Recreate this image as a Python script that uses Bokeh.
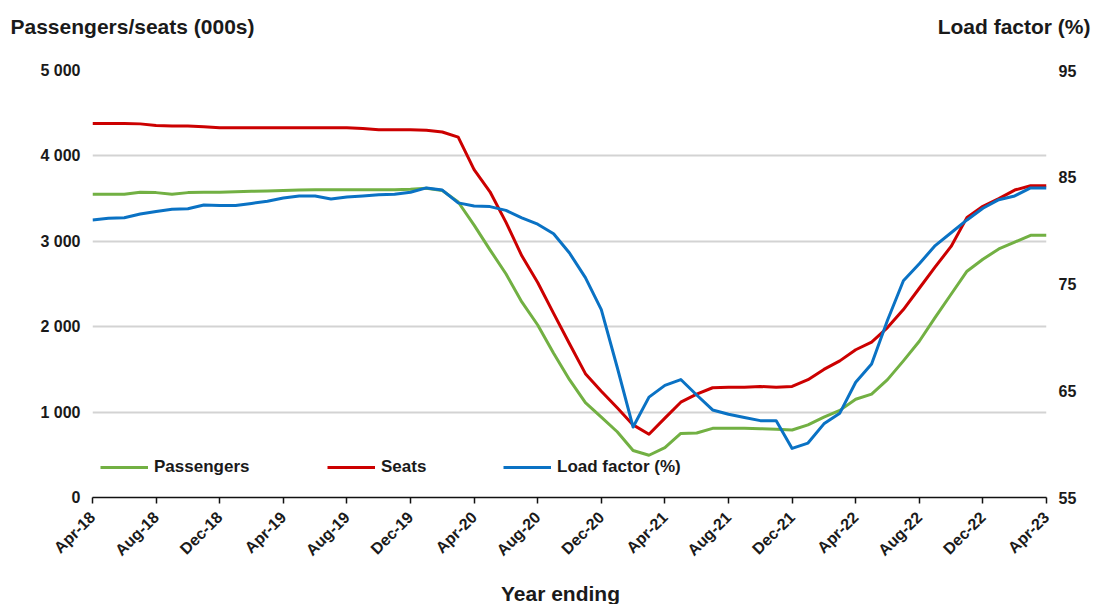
import math
from bokeh.plotting import figure
from bokeh.layouts import column
from bokeh.models import (Range1d, LinearAxis, FixedTicker, Legend, LegendItem, Label)
from bokeh.embed import file_html
from bokeh.resources import INLINE

# ---- data (monthly, year ending Apr-18 .. Apr-23) ----
month_index = list(range(61))
tick_months = [0, 4, 8, 12, 16, 20, 24, 28, 32, 36, 40, 44, 48, 52, 56, 60]
tick_labels = ["Apr-18", "Aug-18", "Dec-18", "Apr-19", "Aug-19", "Dec-19", "Apr-20", "Aug-20",
               "Dec-20", "Apr-21", "Aug-21", "Dec-21", "Apr-22", "Aug-22", "Dec-22", "Apr-23"]

passengers = [3550, 3550, 3550, 3575, 3570, 3550, 3570, 3575, 3575, 3580,
              3585, 3590, 3595, 3600, 3605, 3605, 3605, 3605, 3605, 3605,
              3610, 3620, 3595, 3460, 3190, 2900, 2620, 2290, 2020, 1690,
              1380, 1110, 940, 770, 550, 495, 585, 750, 755, 810,
              810, 810, 805, 800, 790, 850, 940, 1020, 1150, 1210,
              1380, 1600, 1830, 2110, 2380, 2650, 2790, 2910, 2990, 3070, 3070]

seats = [4380, 4380, 4380, 4375, 4355, 4350, 4350, 4340, 4330, 4330,
         4330, 4330, 4330, 4330, 4330, 4330, 4330, 4320, 4305, 4305,
         4305, 4300, 4280, 4220, 3840, 3580, 3225, 2830, 2518, 2156,
         1800, 1450, 1245, 1050, 850, 740, 930, 1116, 1210, 1285,
         1290, 1290, 1300, 1290, 1300, 1380, 1500, 1600, 1730, 1820,
         1990, 2200, 2450, 2700, 2940, 3280, 3410, 3500, 3600, 3650, 3650]

load_factor = [81.0, 81.15, 81.2, 81.55, 81.8, 82.0, 82.05, 82.4, 82.35, 82.35,
               82.55, 82.75, 83.05, 83.25, 83.25, 82.97, 83.15, 83.25, 83.35, 83.4,
               83.6, 84.0, 83.8, 82.6, 82.3, 82.25, 81.9, 81.2, 80.6, 79.7,
               77.9, 75.6, 72.6, 67.2, 61.6, 64.4, 65.5, 66.05, 64.6, 63.2,
               62.8, 62.5, 62.2, 62.2, 59.6, 60.1, 61.9, 62.9, 65.8, 67.5,
               71.6, 75.3, 76.9, 78.6, 79.8, 81.0, 82.1, 82.9, 83.25, 84.0, 84.0]

left_ticks = [0, 1000, 2000, 3000, 4000, 5000]
left_labels = ["0", "1 000", "2 000", "3 000", "4 000", "5 000"]
right_ticks = [55, 65, 75, 85, 95]

FONT = "Liberation Sans"
TXT = "#1a1a1a"
GREEN = "#72b043"
RED = "#cc0000"
BLUE = "#0a72c4"

W = 1097
HEADER_H = 44
FOOTER_H = 22
MAIN_H = 604 - HEADER_H - FOOTER_H


def text_strip(height):
    f = figure(width=W, height=height, output_backend="svg", toolbar_location=None,
               x_range=Range1d(0, W), y_range=Range1d(0, height),
               x_axis_location=None, y_axis_location=None, min_border=0)
    f.frame_align = False
    f.outline_line_color = None
    f.grid.visible = False
    return f


# header with the two axis titles
header = text_strip(HEADER_H)
header.add_layout(Label(x=10, y=18, text="Passengers/seats (000s)", text_font=FONT,
                        text_font_style="bold", text_font_size="21px", text_color=TXT,
                        text_align="left", text_baseline="middle"))
header.add_layout(Label(x=1090, y=18, text="Load factor (%)", text_font=FONT,
                        text_font_style="bold", text_font_size="21px", text_color=TXT,
                        text_align="right", text_baseline="middle"))

# footer with x-axis title
footer = text_strip(FOOTER_H)
footer.add_layout(Label(x=560, y=11, text="Year ending", text_font=FONT,
                        text_font_style="bold", text_font_size="21px", text_color=TXT,
                        text_align="center", text_baseline="middle"))

# main chart
p = figure(width=W, height=MAIN_H, output_backend="svg", toolbar_location=None,
           x_range=Range1d(0, 60), y_range=Range1d(0, 5000),
           min_border_left=92, min_border_right=51, min_border_top=70 - HEADER_H,
           min_border_bottom=MAIN_H - (70 - HEADER_H) - 427)
p.frame_align = False
p.outline_line_color = None
p.background_fill_color = "white"
p.extra_y_ranges = {"lf": Range1d(55, 95)}

p.xgrid.visible = False
p.ygrid.ticker = FixedTicker(ticks=left_ticks[1:])
p.ygrid.grid_line_color = "#d3d3d3"
p.ygrid.grid_line_width = 2

xa = p.xaxis[0]
xa.ticker = FixedTicker(ticks=tick_months)
xa.major_label_overrides = {m: l for m, l in zip(tick_months, tick_labels)}
xa.major_label_orientation = math.pi / 4
xa.major_label_text_font = FONT
xa.major_label_text_font_style = "bold"
xa.major_label_text_font_size = "16px"
xa.major_label_text_color = TXT
xa.major_label_standoff = 11
xa.axis_line_color = "#111111"
xa.axis_line_width = 1.5
xa.major_tick_line_color = "#111111"
xa.major_tick_line_width = 1.5
xa.major_tick_out = 6
xa.major_tick_in = 0
xa.minor_tick_line_color = None

ya = p.yaxis[0]
ya.ticker = FixedTicker(ticks=left_ticks)
ya.major_label_overrides = {t: l for t, l in zip(left_ticks, left_labels)}
ya.axis_line_color = None
ya.major_tick_line_color = None
ya.minor_tick_line_color = None
ya.major_label_standoff = 6
ya.major_label_text_font = FONT
ya.major_label_text_font_style = "bold"
ya.major_label_text_font_size = "16px"
ya.major_label_text_color = TXT

ra = LinearAxis(y_range_name="lf", ticker=FixedTicker(ticks=right_ticks))
ra.axis_line_color = None
ra.major_tick_line_color = None
ra.minor_tick_line_color = None
ra.major_label_standoff = 6
ra.major_label_text_font = FONT
ra.major_label_text_font_style = "bold"
ra.major_label_text_font_size = "16px"
ra.major_label_text_color = TXT
p.add_layout(ra, "right")

r_p = p.line(month_index, passengers, line_color=GREEN, line_width=3, line_join="round")
r_s = p.line(month_index, seats, line_color=RED, line_width=3, line_join="round")
r_l = p.line(month_index, load_factor, line_color=BLUE, line_width=3, line_join="round",
             y_range_name="lf")

for label, rend, loc in [("Passengers", r_p, (8, 20)), ("Seats", r_s, (235, 20)),
                         ("Load factor (%)", r_l, (411, 20))]:
    leg = Legend(items=[LegendItem(label=label, renderers=[rend])], location=loc,
                 orientation="horizontal", padding=0, margin=0, spacing=0,
                 glyph_width=48, glyph_height=20, label_height=20, label_standoff=6,
                 border_line_color=None, background_fill_alpha=0,
                 label_text_font=FONT, label_text_font_style="bold",
                 label_text_font_size="17px", label_text_color=TXT,
                 label_text_baseline="middle")
    p.add_layout(leg, "center")

layout = column(header, p, footer, spacing=0)
open("out.html", "w").write(file_html(layout, INLINE))
